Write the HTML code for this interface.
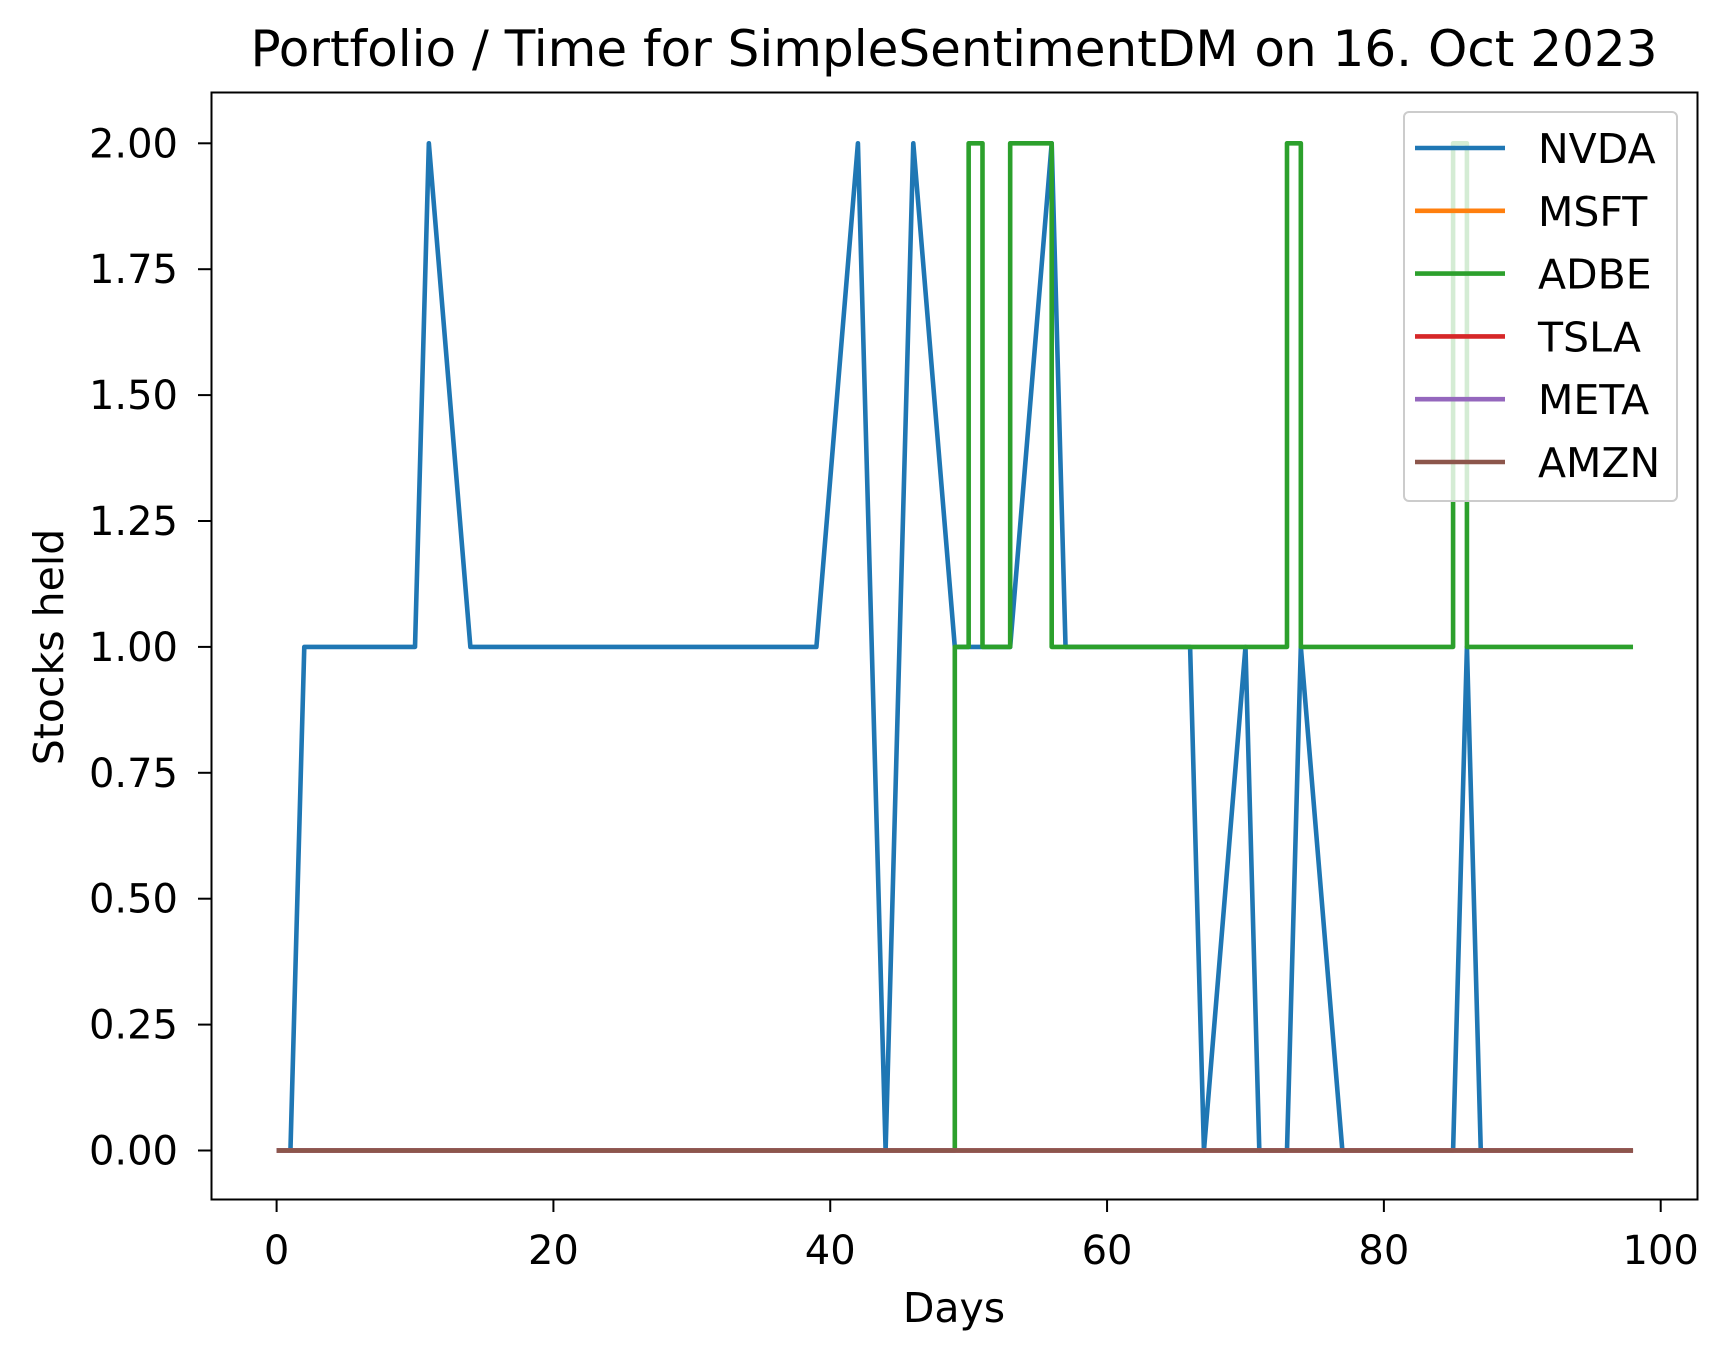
<!DOCTYPE html>
<html><head><meta charset="utf-8"><style>
body{margin:0;background:#fff}
svg{display:block;font-family:"DejaVu Sans","Liberation Sans",sans-serif}
</style></head><body>
<svg id="chart" width="1728" height="1361">
<text x="954" y="66" font-size="50" text-anchor="middle">Portfolio / Time for SimpleSentimentDM on 16. Oct 2023</text>
<g id="marks"></g>
<rect x="211.5" y="92.5" width="1486" height="1107" fill="none" stroke="#000" stroke-width="2"/>
<g id="axes"></g>
<text x="954" y="1322" font-size="41" text-anchor="middle">Days</text>
<text transform="translate(63,647) rotate(-90)" font-size="41" text-anchor="middle">Stocks held</text>
<g id="legend"></g>
</svg>
<script>
const xTicks=[0,20,40,60,80,100];
const yTicks=[0,0.25,0.5,0.75,1,1.25,1.5,1.75,2];
const yTickLabels=["0.00","0.25","0.50","0.75","1.00","1.25","1.50","1.75","2.00"];
const seriesNames=["NVDA","MSFT","ADBE","TSLA","META","AMZN"];
const seriesColors=["#1f77b4","#ff7f0e","#2ca02c","#d62728","#9467bd","#8c564b"];
const nvdaX=[0,1,2,10,11,14,39,42,44,46,49,53,56,57,66,67,70,71,73,74,77,85,86,87,98];
const nvdaY=[0,0,1,1,2,1,1,2,0,2,1,1,2,1,1,0,1,0,0,1,0,0,1,0,0];
const adbeX=[0,49,49,50,50,51,51,53,53,56,56,73,73,74,74,85,85,86,86,98];
const adbeY=[0,0,1,1,2,2,1,1,2,2,1,1,2,2,1,1,2,2,1,1];
const zeroX=[0,98];
const zeroY=[0,0];
const sx=v=>276.6+v*13.841;
const sy=v=>1150.5-v*503.6;
const NS="http://www.w3.org/2000/svg";
const axes=document.getElementById('axes');
xTicks.forEach(t=>{
 const l=document.createElementNS(NS,'line');
 l.setAttribute('x1',sx(t));l.setAttribute('x2',sx(t));l.setAttribute('y1',1199);l.setAttribute('y2',1212);l.setAttribute('stroke','#000');l.setAttribute('stroke-width',2);
 
 
 axes.appendChild(l);
 const tx=document.createElementNS(NS,'text');
 tx.setAttribute('x',sx(t));tx.setAttribute('y',1264);tx.setAttribute('font-size',40);tx.setAttribute('text-anchor','middle');tx.textContent=t;
 
 
 axes.appendChild(tx);
});
yTicks.forEach((t,i)=>{
 const l=document.createElementNS(NS,'line');
 l.setAttribute('x1',198);l.setAttribute('x2',211);l.setAttribute('y1',sy(t));l.setAttribute('y2',sy(t));l.setAttribute('stroke','#000');l.setAttribute('stroke-width',2);
 
 
 axes.appendChild(l);
 const tx=document.createElementNS(NS,'text');
 tx.setAttribute('x',178);tx.setAttribute('y',sy(t)+14);tx.setAttribute('font-size',40);tx.setAttribute('text-anchor','end');tx.textContent=yTickLabels[i];
 
 
 axes.appendChild(tx);
});
const marks=document.getElementById('marks');
const seriesData=[[nvdaX,nvdaY],[zeroX,zeroY],[adbeX,adbeY],[zeroX,zeroY],[zeroX,zeroY],[zeroX,zeroY]];
seriesData.forEach((d,i)=>{
 const p=document.createElementNS(NS,'polyline');
 p.setAttribute('points',d[0].map((x,j)=>sx(x)+','+sy(d[1][j])).join(' '));
 p.setAttribute('fill','none');p.setAttribute('stroke',seriesColors[i]);p.setAttribute('stroke-width',4.6);p.setAttribute('stroke-linejoin','round');
 
 
 marks.appendChild(p);
});
const lg=document.getElementById('legend');
const box=document.createElementNS(NS,'rect');
box.setAttribute('x',1404);box.setAttribute('y',112);box.setAttribute('width',273);box.setAttribute('height',389);box.setAttribute('rx',5);
box.setAttribute('fill','rgba(255,255,255,0.8)');box.setAttribute('stroke','#ccc');box.setAttribute('stroke-width',2);


lg.appendChild(box);
seriesNames.forEach((n,i)=>{
 const y=148+i*62.8;
 const l=document.createElementNS(NS,'line');
 l.setAttribute('x1',1415);l.setAttribute('x2',1505);l.setAttribute('y1',y);l.setAttribute('y2',y);l.setAttribute('stroke',seriesColors[i]);l.setAttribute('stroke-width',4.6);
 
 
 lg.appendChild(l);
 const t=document.createElementNS(NS,'text');
 t.setAttribute('x',1538);t.setAttribute('y',y+15);t.setAttribute('font-size',41);t.textContent=n;
 
 
 lg.appendChild(t);
});
</script>
</body></html>
